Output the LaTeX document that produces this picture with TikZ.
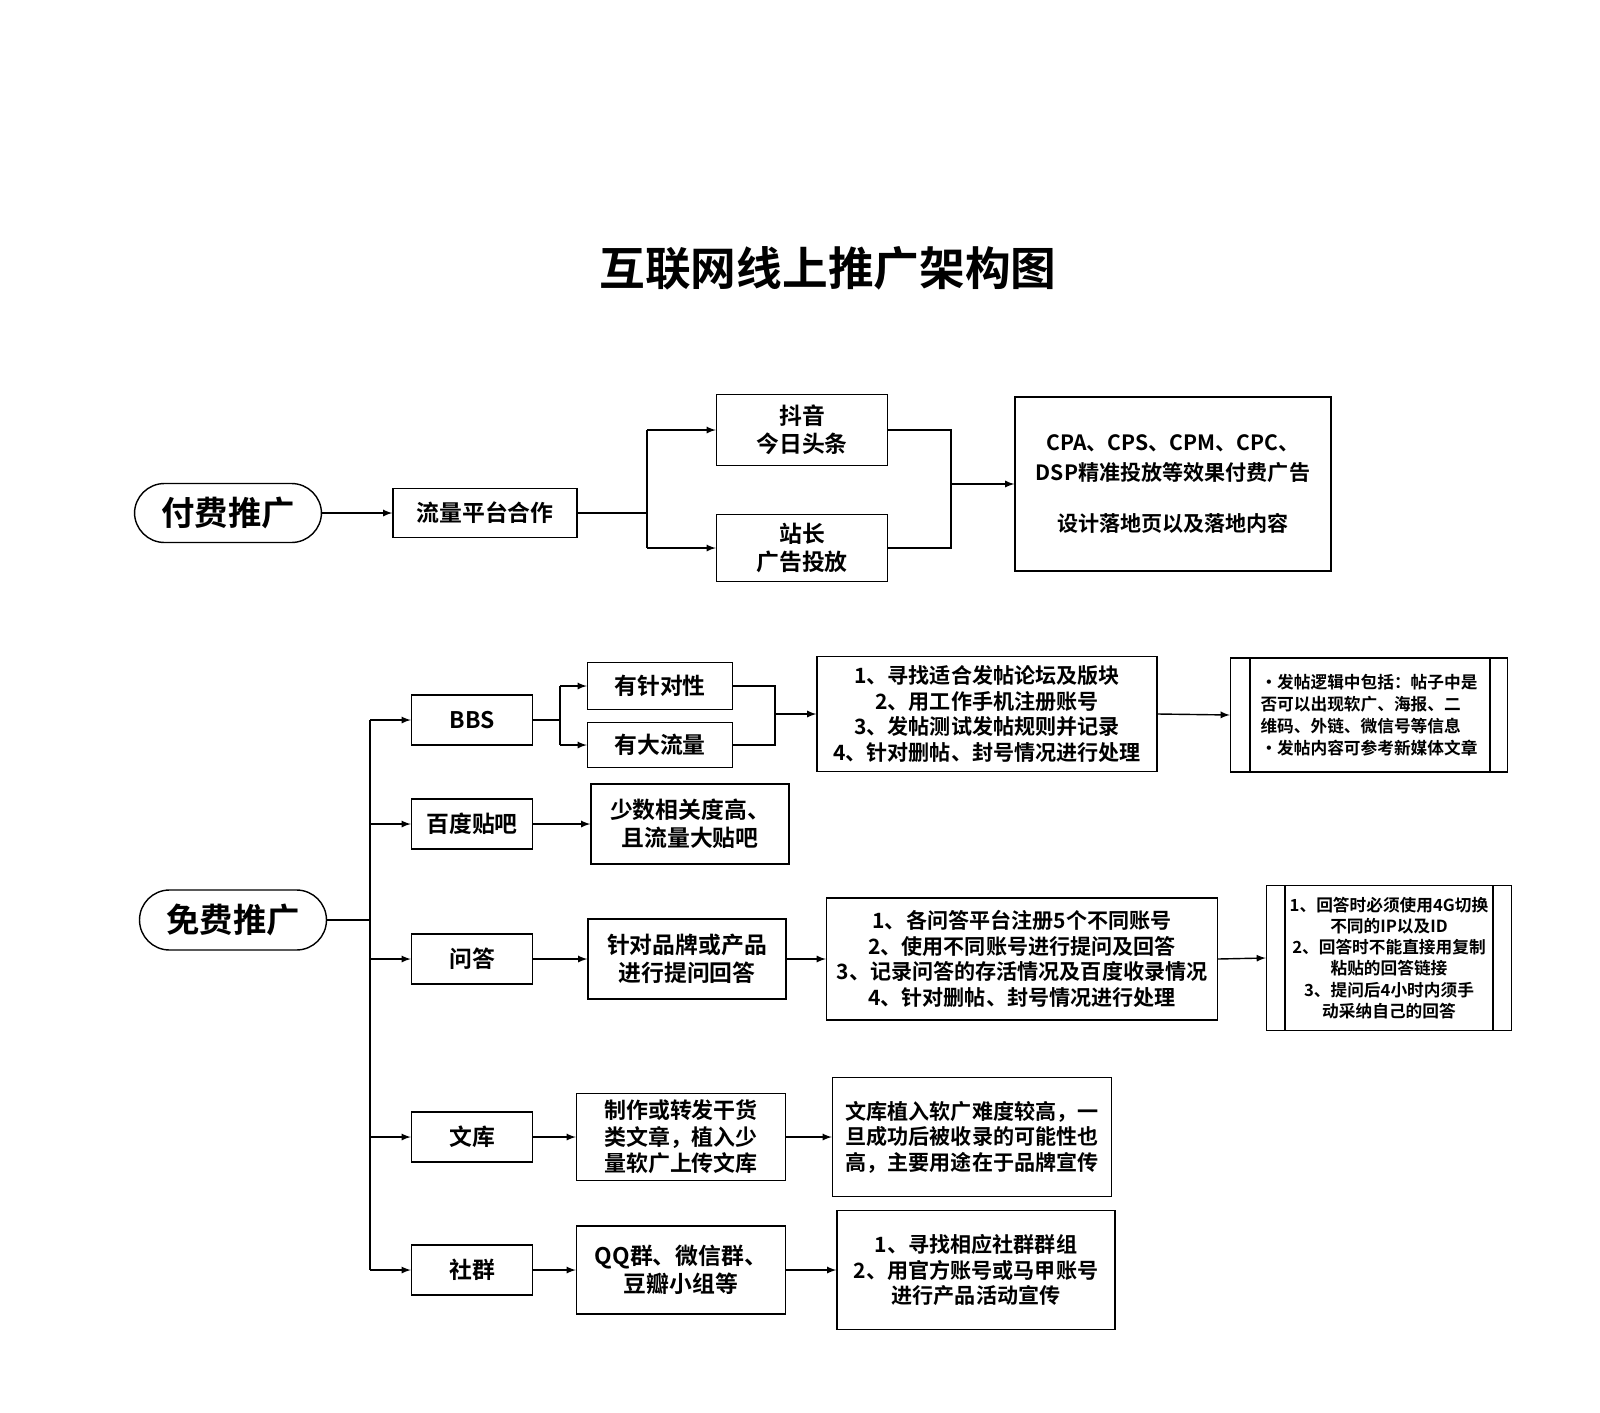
\documentclass[tikz,border=0pt]{standalone}
\usepackage{fontspec}
\setmainfont{Noto Sans CJK SC}[BoldFont={Noto Sans CJK SC Bold}]
\usetikzlibrary{positioning}
\tikzset{
  box/.style={draw, thick, rectangle, align=center, font=\bfseries\fontsize{13}{16}\selectfont},
  stepbox/.style={draw, thick, rectangle, align=center, font=\bfseries\fontsize{12}{14.5}\selectfont},
  rootbox/.style={draw, thick, rounded corners=0.6cm, font=\bfseries\fontsize{19}{22}\selectfont},
  sidebox/.style={draw, thick, rectangle, font=\bfseries\fontsize{9.5}{12.5}\selectfont},
  link/.style={thick, ->, >=latex}
}
\begin{document}
\begin{tikzpicture}[x=0.02cm, y=-0.02cm]
\useasboundingbox (0,0) rectangle (1600,1413);
\node[font=\bfseries\fontsize{26}{30}\selectfont] (title) at (828,268) {互联网线上推广架构图};
% paid
\node[rootbox, minimum width=3.74cm, minimum height=1.18cm] (paid) at (228,513) {付费推广};
\node[box, minimum width=3.68cm, minimum height=0.98cm] (flow) at (485,513) {流量平台合作};
\node[box, minimum width=3.42cm, minimum height=1.42cm] (dy) at (802,430) {抖音\\今日头条};
\node[box, minimum width=3.42cm, minimum height=1.34cm] (zz) at (802,548) {站长\\广告投放};
\node[box, minimum width=6.32cm, minimum height=3.48cm, font=\bfseries\fontsize{12}{17}\selectfont] (cpa) at (1173,484) {CPA、CPS、CPM、CPC、\\DSP精准投放等效果付费广告\\[12pt]设计落地页以及落地内容};
\draw[link] (paid.east) -- (flow.west);
\draw[thick] (flow.east) -- (647,513);
\draw[link] (647,430) -- (dy.west);
\draw[link] (647,548) -- (zz.west);
\draw[thick] (647,430) -- (647,548);
\draw[thick] (dy.east) -- (951,430) -- (951,548) -- (zz.east);
\draw[link] (951,484) -- (cpa.west);
% free
\node[rootbox, minimum width=3.74cm, minimum height=1.2cm] (free) at (233,920) {免费推广};
\coordinate (trunk) at (370,920);
\draw[thick] (free.east) -- (trunk);
\draw[thick] (370,720) -- (370,1270);
\node[box, minimum width=2.42cm, minimum height=1cm] (bbs) at (472,720) {BBS};
\node[box, minimum width=2.42cm, minimum height=1cm] (tb) at (472,824) {百度贴吧};
\node[box, minimum width=2.42cm, minimum height=1cm] (wd) at (472,959) {问答};
\node[box, minimum width=2.42cm, minimum height=1cm] (wk) at (472,1137) {文库};
\node[box, minimum width=2.42cm, minimum height=1cm] (sq) at (472,1270) {社群};
\foreach \n/\y in {bbs/720, tb/824, wd/959, wk/1137, sq/1270}
  \draw[link] (370,\y) -- (\n.west);
% BBS
\node[box, minimum width=2.9cm, minimum height=0.94cm] (zd) at (660,686) {有针对性};
\node[box, minimum width=2.9cm, minimum height=0.9cm] (dl) at (660,745) {有大流量};
\draw[thick] (bbs.east) -- (560,720);
\draw[thick] (560,686) -- (560,745);
\draw[link] (560,686) -- (zd.west);
\draw[link] (560,745) -- (dl.west);
\draw[thick] (zd.east) -- (775,686) -- (775,745) -- (dl.east);
\node[stepbox, minimum width=6.8cm, minimum height=2.3cm] (bbsstep) at (987,714) {1、寻找适合发帖论坛及版块\\2、用工作手机注册账号\\3、发帖测试发帖规则并记录\\4、针对删帖、封号情况进行处理};
\draw[link] (775,714) -- (bbsstep.west);
\node[sidebox, minimum width=5.54cm, minimum height=2.28cm, align=left] (bbsnote) at (1369,715) {·发帖逻辑中包括：帖子中是\\否可以出现软广、海报、二\\维码、外链、微信号等信息\\·发帖内容可参考新媒体文章};
\draw[thick] (1250,658) -- (1250,772) (1490,658) -- (1490,772);
\draw[link] (bbsstep.east) -- (bbsnote.west);
% tieba
\node[box, minimum width=3.96cm, minimum height=1.6cm] (tbnote) at (690,824) {少数相关度高、\\且流量大贴吧};
\draw[link] (tb.east) -- (tbnote.west);
% wenda
\node[box, minimum width=3.96cm, minimum height=1.6cm] (wdq) at (687,959) {针对品牌或产品\\进行提问回答};
\node[stepbox, minimum width=7.82cm, minimum height=2.44cm] (wdstep) at (1022,959) {1、各问答平台注册5个不同账号\\2、使用不同账号进行提问及回答\\3、记录问答的存活情况及百度收录情况\\4、针对删帖、封号情况进行处理};
\node[sidebox, minimum width=4.9cm, minimum height=2.9cm, align=center, font=\bfseries\fontsize{9.5}{12}\selectfont] (wdnote) at (1389,958) {1、回答时必须使用4G切换\\不同的IP以及ID\\2、回答时不能直接用复制\\粘贴的回答链接\\3、提问后4小时内须手\\动采纳自己的回答};
\draw[thick] (1285,886) -- (1285,1031) (1493,886) -- (1493,1031);
\draw[link] (wd.east) -- (wdq.west);
\draw[link] (wdq.east) -- (wdstep.west);
\draw[link] (wdstep.east) -- (wdnote.west);
% wenku
\node[box, minimum width=4.18cm, minimum height=1.74cm, font=\bfseries\fontsize{12.5}{15}\selectfont] (wkq) at (681,1137) {制作或转发干货\\类文章，植入少\\量软广上传文库};
\node[stepbox, minimum width=5.58cm, minimum height=2.38cm, align=left] (wknote) at (972,1137) {文库植入软广难度较高，一\\旦成功后被收录的可能性也\\高，主要用途在于品牌宣传};
\draw[link] (wk.east) -- (wkq.west);
\draw[link] (wkq.east) -- (wknote.west);
% shequn
\node[box, minimum width=4.18cm, minimum height=1.76cm] (sqq) at (681,1270) {QQ群、微信群、\\豆瓣小组等};
\node[stepbox, minimum width=5.56cm, minimum height=2.38cm] (sqstep) at (976,1270) {1、寻找相应社群群组\\2、用官方账号或马甲账号\\进行产品活动宣传};
\draw[link] (sq.east) -- (sqq.west);
\draw[link] (sqq.east) -- (sqstep.west);
\end{tikzpicture}
\end{document}
